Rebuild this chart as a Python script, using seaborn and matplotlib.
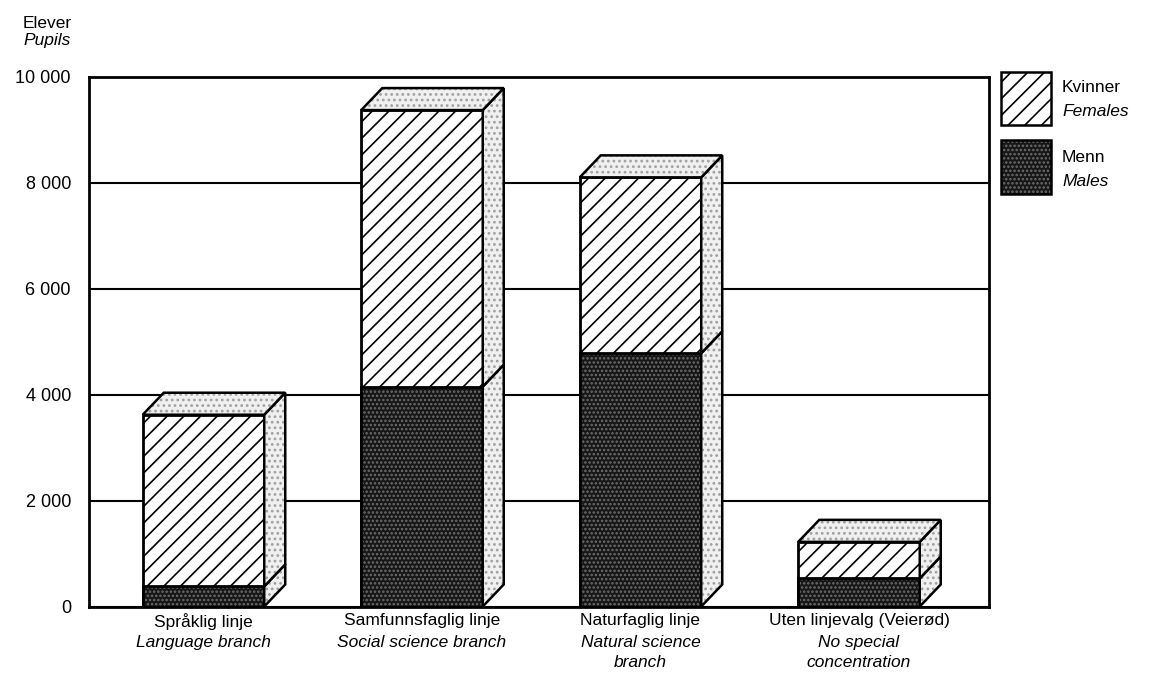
import numpy as np
import pandas as pd

import matplotlib
matplotlib.use('Agg')
import matplotlib.pyplot as plt
from matplotlib.patches import Polygon, Rectangle
import seaborn as sns

# Data
categories = ["Språklig linje", "Samfunnsfaglig linje", "Naturfaglig linje", "Uten linjevalg (Veierød)"]
categories_en = ["Language branch", "Social science branch", "Natural science\nbranch", "No special\nconcentration"]
males = [380, 4150, 4780, 530]
females = [3240, 5220, 3320, 690]
yticks = [0, 2000, 4000, 6000, 8000, 10000]
ytick_labels = ["0", "2 000", "4 000", "6 000", "8 000", "10 000"]

W, H = 1149, 685
DEPTH_PX = (21, 22)
FS = 12.5

df = pd.DataFrame({"linje": categories, "Menn": males, "Kvinner": females})
df["total"] = df["Menn"] + df["Kvinner"]

sns.set_theme(style="white")
plt.rcParams["font.family"] = ["Liberation Sans", "DejaVu Sans"]
plt.rcParams.update({
    "text.color": "black",
    "axes.labelcolor": "black",
    "xtick.color": "black",
    "ytick.color": "black",
    "hatch.linewidth": 1.2,
})

fig = plt.figure(figsize=(W / 100, H / 100), dpi=100)
ax = fig.add_axes([89 / W, (H - 606.5) / H, 900 / W, 529.8 / H])

# ────────────────────────────────────────────────────────
# Front faces: females (hatched) over full height, males (dark) below
# ────────────────────────────────────────────────────────
sns.barplot(data=df, x="linje", y="total", ax=ax, width=0.556, color="white",
            saturation=1, hatch="//", edgecolor="black", linewidth=2.0)
n_f = len(ax.patches)
sns.barplot(data=df, x="linje", y="Menn", ax=ax, width=0.556, color="#161616",
            saturation=1, hatch="....", edgecolor="#6e6e6e", linewidth=0)
front_f = ax.patches[:n_f]
front_m = ax.patches[n_f:]

ax.set_xlim(-0.524, 3.595)
ax.set_ylim(0, 10000)

# depth offset in data units
inv = ax.transData.inverted()
p0 = ax.transData.transform((0, 0))
dx, dy = inv.transform(p0 + np.array(DEPTH_PX)) - inv.transform(p0)

light = dict(facecolor="#f0f0f0", hatch="...", edgecolor="#a0a0a0", linewidth=0)
for pf, pm in zip(front_f, front_m):
    x0, w = pf.get_x(), pf.get_width()
    ht, hm = pf.get_height(), pm.get_height()
    ax.add_patch(Rectangle((x0, 0), w, hm, fill=False, edgecolor="black", linewidth=2.0))
    faces = [
        [(x0 + w, 0), (x0 + w + dx, dy), (x0 + w + dx, hm + dy), (x0 + w, hm)],
        [(x0 + w, hm), (x0 + w + dx, hm + dy), (x0 + w + dx, ht + dy), (x0 + w, ht)],
        [(x0, ht), (x0 + dx, ht + dy), (x0 + w + dx, ht + dy), (x0 + w, ht)],
    ]
    for f in faces:
        ax.add_patch(Polygon(f, closed=True, **light))
        ax.add_patch(Polygon(f, closed=True, fill=False, edgecolor="black", linewidth=1.8))

# axes styling
ax.set_yticks(yticks)
ax.set_yticklabels(ytick_labels, fontsize=13)
ax.yaxis.grid(True, color="black", linewidth=1.5)
ax.set_axisbelow(True)
for s in ax.spines.values():
    s.set_color("black")
    s.set_linewidth(2.0)
ax.tick_params(axis="both", length=0, colors="black")
ax.tick_params(axis="y", pad=13)
ax.set_xlabel("")
ax.set_ylabel("")
ax.set_xticks(range(len(categories)))
ax.set_xticklabels(categories, fontsize=FS)
ax.tick_params(axis="x", pad=5)

for i, lab in enumerate(categories_en):
    ax.annotate(lab, xy=(i, 0), xycoords=("data", "axes fraction"),
                xytext=(0, -20.5), textcoords="offset points",
                ha="center", va="top", fontsize=FS, style="italic",
                linespacing=1.45)

# axis title
fig.text(23 / W, 1 - 23 / H, "Elever", fontsize=FS, va="center", ha="left")
fig.text(23 / W, 1 - 41 / H, "Pupils", fontsize=FS, va="center", ha="left", style="italic")

# legend drawn by hand (two-line labels with italic English)
fig.add_artist(Rectangle((1001 / W, 1 - 125 / H), 50 / W, 53 / H, transform=fig.transFigure,
                         facecolor="white", hatch="//", edgecolor="black", linewidth=1.8))
fig.add_artist(Rectangle((1001 / W, 1 - 194 / H), 50 / W, 54 / H, transform=fig.transFigure,
                         facecolor="#161616", hatch="....", edgecolor="#6e6e6e", linewidth=0))
fig.add_artist(Rectangle((1001 / W, 1 - 194 / H), 50 / W, 54 / H, transform=fig.transFigure,
                         fill=False, edgecolor="black", linewidth=1.8))
fig.text(1062 / W, 1 - 88 / H, "Kvinner", fontsize=FS, va="center")
fig.text(1062 / W, 1 - 112 / H, "Females", fontsize=FS, va="center", style="italic")
fig.text(1062 / W, 1 - 158 / H, "Menn", fontsize=FS, va="center")
fig.text(1062 / W, 1 - 182 / H, "Males", fontsize=FS, va="center", style="italic")

fig.savefig("out.png", dpi=100, facecolor="white")
plt.close(fig)
